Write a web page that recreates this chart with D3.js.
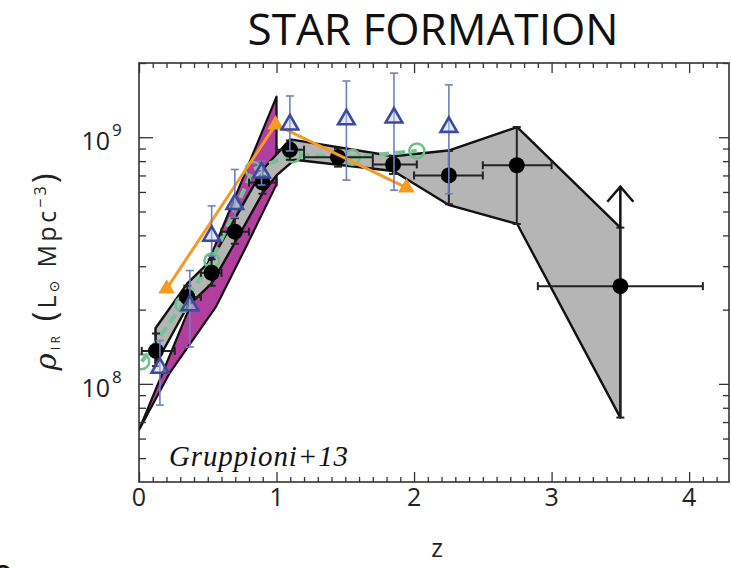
<!DOCTYPE html>
<html>
<head>
<meta charset="utf-8">
<script src="https://cdn.jsdelivr.net/npm/d3@7"></script>
<style>
body { margin: 0; background: #fff; }
svg { display: block; }
</style>
</head>
<body>
<svg id="chart"></svg>
<script>
var width = 731;
var height = 568;

// Gruppioni+13 filled circles
var grZ   = [0.123, 0.351, 0.528, 0.697, 0.898, 1.097, 1.447, 1.847, 2.253, 2.747, 3.5];
var grRho = [1.36e8, 2.25e8, 2.82e8, 4.14e8, 6.55e8, 8.9e8, 8.3e8, 7.76e8, 7.0e8, 7.7e8, 2.49e8];
var grZlo = [0.02, 0.3, 0.45, 0.6, 0.8, 1.0, 1.2, 1.7, 2.0, 2.5, 2.9];
var grZhi = [0.26, 0.45, 0.6, 0.8, 1.0, 1.2, 1.7, 2.02, 2.5, 3.0, 4.1];
var grLo  = [1.18e8, 2.0e8, 2.5e8, 3.7e8, 5.9e8, 8.1e8, 7.6e8, 7.1e8, 5.35e8, 4.45e8, 7.3e7];
var grHi  = [1.6e8, 2.5e8, 3.2e8, 4.7e8, 7.3e8, 9.7e8, 9.0e8, 8.3e8, 8.8e8, 1.1e9, 4.3e8];
var arrowTop = 6.3e8; // lower limit arrow on last bin

// grey uncertainty band (upper edge then lower edge)
var bandUpper = [[0.12, 1.68e8], [0.35, 2.55e8], [0.53, 3.2e8], [0.7, 4.7e8], [0.9, 7.4e8], [1.1, 9.8e8],
                 [1.85, 8.37e8], [2.25, 8.83e8], [2.75, 1.1e9], [3.5, 4.3e8]];
var bandLower = [[3.5, 7.3e7], [2.75, 4.45e8], [2.25, 5.32e8], [1.85, 7.3e8], [1.13, 8.1e8], [1.0, 7.0e8],
                 [0.9, 5.95e8], [0.7, 3.76e8], [0.53, 2.56e8], [0.35, 2.05e8], [0.12, 1.2e8]];

// magenta band
var magBand = [[0.0, 6.5e7], [0.22, 1.1e8], [0.559, 2.05e8], [0.777, 3.58e8], [1.0, 6.44e8], [1.0, 1.46e9]];

// orange filled triangles
var orZ   = [0.201, 0.993, 1.944];
var orRho = [2.43e8, 1.125e9, 6.25e8];

// blue open triangles
var blZ   = [0.152, 0.37, 0.528, 0.697, 0.891, 1.097, 1.508, 1.854, 2.253];
var blRho = [1.16e8, 2.08e8, 3.98e8, 5.35e8, 7.18e8, 1.125e9, 1.18e9, 1.2e9, 1.1e9];
var blLo  = [8.2e7, 1.41e8, 3.3e8, 4.73e8, 6.4e8, 8.8e8, 6.7e8, 6.1e8, 5.9e8];
var blHi  = [1.5e8, 2.88e8, 5.27e8, 7.4e8, 8.0e8, 1.47e9, 1.69e9, 1.82e9, 1.63e9];

// green open circles, dashed
var gnZ   = [0.02, 0.32, 0.53, 0.83, 1.12, 1.55, 2.02];
var gnRho = [1.23e8, 2.1e8, 3.16e8, 7.4e8, 8.5e8, 8.3e8, 8.8e8];

var xMajor = [0, 1, 2, 3, 4];
var yMajor = [1e8, 1e9];
var yMajorExp = ["8", "9"];
var yMinor = [5e7, 6e7, 7e7, 8e7, 9e7, 2e8, 3e8, 4e8, 5e8, 6e8, 7e8, 8e8, 9e8, 2e9];

var pLeft = 139, pRight = 729, pTop = 63, pBottom = 482;

var x = d3.scaleLinear().domain([0, 4.29]).range([pLeft, pRight]);
var y = d3.scaleLog().domain([4e7, 2e9]).range([pBottom, pTop]);

var svg = d3.select("#chart")
    .attr("width", width)
    .attr("height", height)
    .style("font-family", "'Open Sans', sans-serif");

var plot = svg.append("g");
plot.append("clipPath").attr("id", "clip")
  .append("rect").attr("x", pLeft).attr("y", pTop).attr("width", pRight - pLeft).attr("height", pBottom - pTop);
var inner = plot.append("g").attr("clip-path", "url(#clip)");

var poly = d3.line().x(function(d) { return x(d[0]); }).y(function(d) { return y(d[1]); });

// magenta band
inner.append("path")
  .attr("d", poly(magBand) + "Z")
  .attr("fill", "#b23e9e")
  .attr("stroke", "#111")
  .attr("stroke-width", 2.2)
  .attr("stroke-linejoin", "round");

// grey band
inner.append("path")
  .attr("d", poly(bandUpper.concat(bandLower)) + "Z")
  .attr("fill", "#b5b5b5")
  .attr("stroke", "#111")
  .attr("stroke-width", 2.4)
  .attr("stroke-linejoin", "round");

// green dashed line + circles
var gnPts = gnZ.map(function(z, i) { return [z, gnRho[i]]; });
inner.append("path")
  .attr("d", poly(gnPts))
  .attr("fill", "none")
  .attr("stroke", "#74c493")
  .attr("stroke-width", 4)
  .attr("stroke-dasharray", "10,6");
inner.selectAll(".gn")
  .data(gnPts)
  .enter().append("circle")
  .attr("cx", function(d) { return x(d[0]); })
  .attr("cy", function(d) { return y(d[1]); })
  .attr("r", 7.5)
  .attr("fill", "none")
  .attr("stroke", "#6cc08c")
  .attr("stroke-width", 2.5);

// black error bars
var cap = 4;
grZ.forEach(function(z, i) {
  var cx = x(z), cy = y(grRho[i]);
  var g = inner.append("g").attr("stroke", "#222").attr("stroke-width", 2);
  g.append("line").attr("x1", x(grZlo[i])).attr("x2", x(grZhi[i])).attr("y1", cy).attr("y2", cy);
  g.append("line").attr("x1", x(grZlo[i])).attr("x2", x(grZlo[i])).attr("y1", cy - cap).attr("y2", cy + cap);
  g.append("line").attr("x1", x(grZhi[i])).attr("x2", x(grZhi[i])).attr("y1", cy - cap).attr("y2", cy + cap);
  g.append("line").attr("x1", cx).attr("x2", cx).attr("y1", y(grLo[i])).attr("y2", y(grHi[i]));
  g.append("line").attr("x1", cx - cap).attr("x2", cx + cap).attr("y1", y(grLo[i])).attr("y2", y(grLo[i]));
  g.append("line").attr("x1", cx - cap).attr("x2", cx + cap).attr("y1", y(grHi[i])).attr("y2", y(grHi[i]));
});

// upward arrow on the last bin
var last = grZ.length - 1;
var ax = x(grZ[last]);
inner.append("path")
  .attr("d", "M" + ax + "," + y(grHi[last]) + "V" + y(arrowTop) +
             "M" + (ax - 13) + "," + (y(arrowTop) + 15) + "L" + ax + "," + y(arrowTop) +
             "L" + (ax + 13) + "," + (y(arrowTop) + 15))
  .attr("fill", "none")
  .attr("stroke", "#111")
  .attr("stroke-width", 2.5);

inner.selectAll(".gr")
  .data(grZ)
  .enter().append("circle")
  .attr("cx", function(d) { return x(d); })
  .attr("cy", function(d, i) { return y(grRho[i]); })
  .attr("r", 8)
  .attr("fill", "#000");

// orange line + filled triangles
var orPts = orZ.map(function(z, i) { return [z, orRho[i]]; });
inner.append("path")
  .attr("d", poly(orPts))
  .attr("fill", "none")
  .attr("stroke", "#f59a23")
  .attr("stroke-width", 3);
var tri = d3.symbol().type(d3.symbolTriangle).size(120);
inner.selectAll(".or")
  .data(orPts)
  .enter().append("path")
  .attr("d", tri)
  .attr("transform", function(d) { return "translate(" + x(d[0]) + "," + y(d[1]) + ")"; })
  .attr("fill", "#f59a23");

// blue open triangles with error bars
blZ.forEach(function(z, i) {
  var cx = x(z);
  var g = inner.append("g").attr("stroke", "#6f7fc4").attr("stroke-width", 1.6);
  g.append("line").attr("x1", cx).attr("x2", cx).attr("y1", y(blLo[i])).attr("y2", y(blHi[i]));
  g.append("line").attr("x1", cx - 4).attr("x2", cx + 4).attr("y1", y(blLo[i])).attr("y2", y(blLo[i]));
  g.append("line").attr("x1", cx - 4).attr("x2", cx + 4).attr("y1", y(blHi[i])).attr("y2", y(blHi[i]));
});
inner.selectAll(".bl")
  .data(blZ)
  .enter().append("path")
  .attr("d", tri)
  .attr("transform", function(d, i) { return "translate(" + x(d) + "," + y(blRho[i]) + ")"; })
  .attr("fill", "#c9d0f0")
  .attr("fill-opacity", 0.5)
  .attr("stroke", "#3a4a9e")
  .attr("stroke-width", 2.6);

// axes: ticks on all four sides, pointing inward
function tickAxis(axis, tx, ty, vals, size) {
  plot.append("g")
    .attr("transform", "translate(" + tx + "," + ty + ")")
    .call(axis.tickValues(vals).tickSize(size).tickFormat(""))
    .call(function(g) {
      g.select(".domain").remove();
      g.selectAll("line").attr("stroke", "#333").attr("stroke-width", 1.3);
    });
}
var xMinor = d3.range(0, 43).map(function(i) { return i / 10; }).filter(function(v) { return v % 1 !== 0; });
tickAxis(d3.axisBottom(x), 0, pBottom, xMajor, -10);
tickAxis(d3.axisBottom(x), 0, pBottom, xMinor, -5);
tickAxis(d3.axisTop(x), 0, pTop, xMajor, -10);
tickAxis(d3.axisTop(x), 0, pTop, xMinor, -5);
tickAxis(d3.axisLeft(y), pLeft, 0, yMajor, -14);
tickAxis(d3.axisLeft(y), pLeft, 0, yMinor, -7);
tickAxis(d3.axisRight(y), pRight, 0, yMajor, -10);
tickAxis(d3.axisRight(y), pRight, 0, yMinor, -6);

plot.append("rect")
  .attr("x", pLeft).attr("y", pTop)
  .attr("width", pRight - pLeft).attr("height", pBottom - pTop)
  .attr("fill", "none")
  .attr("stroke", "#333")
  .attr("stroke-width", 1.6);

// tick labels
svg.selectAll(".xl")
  .data(xMajor)
  .enter().append("text")
  .attr("x", function(d) { return x(d); })
  .attr("y", 506)
  .attr("text-anchor", "middle")
  .attr("font-size", 25)
  .attr("fill", "#222")
  .text(function(d) { return d; });

yMajor.forEach(function(v, i) {
  svg.append("text")
    .attr("x", 110)
    .attr("y", y(v) + 13)
    .attr("text-anchor", "end")
    .attr("font-size", 25)
    .attr("fill", "#222")
    .text("10");
  svg.append("text")
    .attr("x", 112)
    .attr("y", y(v) - 1)
    .attr("font-size", 17)
    .attr("fill", "#222")
    .text(yMajorExp[i]);
});

// axis titles
svg.append("text")
  .attr("x", 437)
  .attr("y", 557)
  .attr("text-anchor", "middle")
  .attr("font-size", 25)
  .attr("fill", "#222")
  .text("z");

var yl = svg.append("text")
  .attr("transform", "translate(56,272) rotate(-90)")
  .attr("text-anchor", "middle")
  .attr("font-size", 25)
  .attr("textLength", 197)
  .attr("fill", "#222");
yl.append("tspan").attr("font-style", "italic").attr("font-family", "'DejaVu Serif', serif").attr("font-size", 29).text("ρ");
yl.append("tspan").attr("font-size", 12).attr("dy", 4).text("IR");
yl.append("tspan").attr("dy", -4).attr("font-size", 32).text(" (");
yl.append("tspan").text("L");
yl.append("tspan").attr("font-size", 14).attr("dy", 3).attr("font-family", "'DejaVu Sans', sans-serif").text("⊙");
yl.append("tspan").attr("dy", -3).text("  Mpc");
yl.append("tspan").attr("font-size", 16).attr("dy", -10).text("−3");
yl.append("tspan").attr("dy", 10).attr("font-size", 32).text(")");

svg.append("text")
  .attr("x", 433)
  .attr("y", 45)
  .attr("text-anchor", "middle")
  .attr("font-size", 43)
  .attr("textLength", 371)
  .attr("lengthAdjust", "spacingAndGlyphs")
  .attr("fill", "#111")
  .text("STAR FORMATION");

svg.append("text")
  .attr("x", 169)
  .attr("y", 466)
  .attr("font-size", 29)
  .attr("font-style", "italic")
  .attr("font-family", "'Liberation Serif', serif")
  .attr("textLength", 179)
  .attr("fill", "#111")
  .text("Gruppioni+13");

// clipped label from the next panel
svg.append("text")
  .attr("x", -8)
  .attr("y", 585)
  .attr("font-size", 36)
  .attr("fill", "#111")
  .text("o");
</script>
</body>
</html>
